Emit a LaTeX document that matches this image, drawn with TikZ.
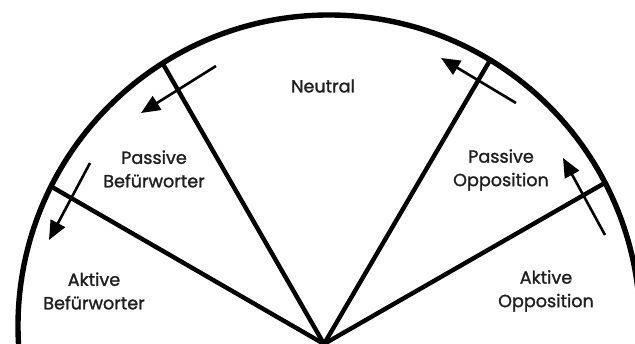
\documentclass[tikz,border=0pt]{standalone}
\usepackage{fontspec}
\setmainfont{Poppins}[FakeBold=1.4]
\usetikzlibrary{arrows.meta}
\begin{document}
\begin{tikzpicture}[x=1pt,y=1pt,
  rim/.style={line width=5.4pt},
  divider/.style={line width=4.4pt},
  move/.style={line width=2.6pt,-{Triangle[length=19pt,width=16pt]}},
  lbl/.style={align=center,font=\fontsize{17.6}{23.5}\selectfont,text=black!88,inner sep=0pt}]
\useasboundingbox (0,0) rectangle (635,344);
\coordinate (C) at (329,18);
\coordinate (O) at (324,0);
\coordinate (D1) at (52,157);
\coordinate (D2) at (163,280);
\coordinate (D3) at (489,282);
\coordinate (D4) at (603,160);
\begin{scope}
  \clip (0,0) rectangle (635,344);
  \draw[rim] (C) circle[radius=311];
\end{scope}
\draw[divider] (O) -- (D1);
\draw[divider] (O) -- (D2);
\draw[divider] (O) -- (D3);
\draw[divider] (O) -- (D4);
\coordinate (a1s) at (216,278); \coordinate (a1e) at (141,231);
\coordinate (a2s) at (90,181);  \coordinate (a2e) at (49,104);
\coordinate (a3s) at (516,241); \coordinate (a3e) at (441,286);
\coordinate (a4s) at (605,109); \coordinate (a4e) at (563,186);
\draw[move] (a1s) -- (a1e);
\draw[move] (a2s) -- (a2e);
\draw[move] (a3s) -- (a3e);
\draw[move] (a4s) -- (a4e);
\node[lbl] (neu) at (323,258) {Neutral};
\node[lbl] (pb) at (154,175) {Passive\\Befürworter};
\node[lbl] (po) at (501,174) {Passive\\Opposition};
\node[lbl] (ab) at (94,53) {Aktive\\Befürworter};
\node[lbl] (ao) at (546,53) {Aktive\\Opposition};
\end{tikzpicture}
\end{document}
